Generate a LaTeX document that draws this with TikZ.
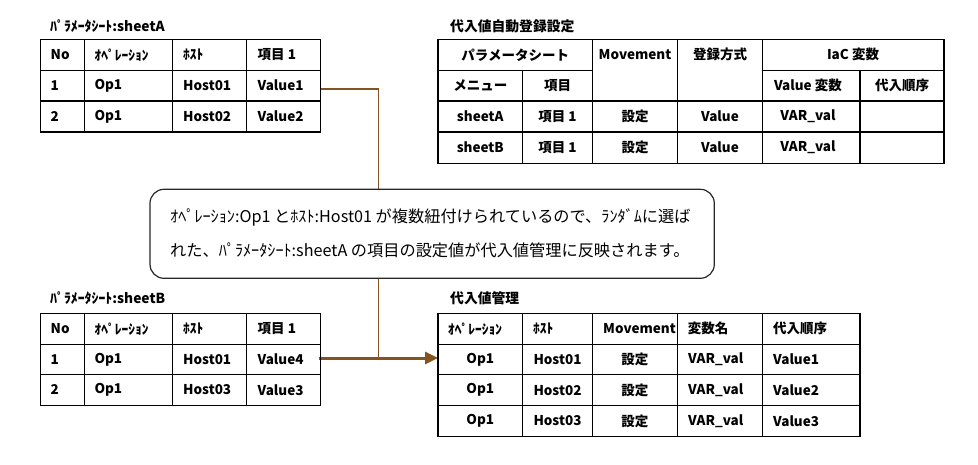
\documentclass[tikz,border=0pt]{standalone}
\usepackage{fontspec}
\usetikzlibrary{arrows.meta}
\newfontfamily\cjk{Noto Sans CJK JP}
\definecolor{linkbrown}{RGB}{132,84,32}
\definecolor{boxline}{RGB}{40,40,40}
\tikzset{
  grid/.style={draw=black, line width=1.3pt},
  cell/.style={font=\cjk\bfseries\fontsize{13.5}{15}\selectfont, inner sep=0pt},
  lcell/.style={cell, anchor=west},
  ccell/.style={cell, anchor=center},
  ttl/.style={font=\cjk\bfseries\fontsize{13.8}{15}\selectfont, inner sep=0pt, anchor=west},
  callout/.style={draw=boxline, line width=1.2pt, fill=white, rounded corners=14pt},
  calltext/.style={font=\cjk\fontsize{16.2}{18}\selectfont, inner sep=0pt, anchor=west},
  thinlink/.style={draw=linkbrown, line width=1.6pt},
  thicklink/.style={draw=linkbrown, line width=3pt, -{Triangle[length=13pt,width=12pt]}}
}
\begin{document}
\begin{tikzpicture}[x=1pt,y=-1pt]
\useasboundingbox (0,0) rectangle (978,465);
\fill[white] (0,0) rectangle (978,465);

% ---------- connectors ----------
\coordinate (srcA) at (320.7,89);
\coordinate (bend) at (378.3,89);
\coordinate (junc) at (378.3,358);
\coordinate (srcB) at (319,358);
\coordinate (dstD) at (438,358);
\draw[thinlink] (srcA) -- (bend) -- (junc);
\draw[thicklink] (srcB) -- (dstD);

% ---------- callout ----------
\draw[callout] (150,189.3) rectangle (714.3,278.3);
\node[calltext] (cl1) at (170,217) {ｵﾍﾟﾚｰｼｮﾝ:Op1 とﾎｽﾄ:Host01 が複数紐付けられているので、ﾗﾝﾀﾞﾑに選ば};
\node[calltext] (cl2) at (170,250) {れた、ﾊﾟﾗﾒｰﾀｼｰﾄ:sheetA の項目の設定値が代入値管理に反映されます。};

% ---------- table A : sheetA ----------
\node[ttl] (tA) at (50,26) {ﾊﾟﾗﾒｰﾀｼｰﾄ:sheetA};
\draw[grid] (40.7,39.3) rectangle (320.7,132);
\foreach \yy in {70.3,101} \draw[grid] (40.7,\yy) -- (320.7,\yy);
\foreach \xx in {84.3,172.3,246.7} \draw[grid] (\xx,39.3) -- (\xx,132);
\node[lcell] (a01) at (50.5,54.8) {No};
\node[lcell] (a02) at (94.3,54.8) {ｵﾍﾟﾚｰｼｮﾝ};
\node[lcell] (a03) at (183,54.8) {ﾎｽﾄ};
\node[lcell] (a04) at (257.5,54.8) {項目 1};
\node[lcell] (a11) at (50.5,85.7) {1};
\node[lcell] (a12) at (94.3,85.7) {Op1};
\node[lcell] (a13) at (183,85.7) {Host01};
\node[lcell] (a14) at (257.5,85.7) {Value1};
\node[lcell] (a21) at (50.5,116.5) {2};
\node[lcell] (a22) at (94.3,116.5) {Op1};
\node[lcell] (a23) at (183,116.5) {Host02};
\node[lcell] (a24) at (257.5,116.5) {Value2};

% ---------- table B : sheetB ----------
\node[ttl] (tB) at (50,298.3) {ﾊﾟﾗﾒｰﾀｼｰﾄ:sheetB};
\draw[grid] (40.7,313.3) rectangle (320.7,405.3);
\foreach \yy in {344.3,374.7} \draw[grid] (40.7,\yy) -- (320.7,\yy);
\foreach \xx in {84.3,172.3,246.7} \draw[grid] (\xx,313.3) -- (\xx,405.3);
\node[lcell] (b01) at (50.5,328.8) {No};
\node[lcell] (b02) at (94.3,328.8) {ｵﾍﾟﾚｰｼｮﾝ};
\node[lcell] (b03) at (183,328.8) {ﾎｽﾄ};
\node[lcell] (b04) at (257.5,328.8) {項目 1};
\node[lcell] (b11) at (50.5,359.5) {1};
\node[lcell] (b12) at (94.3,359.5) {Op1};
\node[lcell] (b13) at (183,359.5) {Host01};
\node[lcell] (b14) at (257.5,359.5) {Value4};
\node[lcell] (b21) at (50.5,390) {2};
\node[lcell] (b22) at (94.3,390) {Op1};
\node[lcell] (b23) at (183,390) {Host03};
\node[lcell] (b24) at (257.5,390) {Value3};

% ---------- table C : 代入値自動登録設定 ----------
\node[ttl] (tC) at (450,26) {代入値自動登録設定};
\draw[grid] (438,39.3) rectangle (944,163.3);
\draw[grid] (438,70.3) -- (592.3,70.3);
\draw[grid] (762.3,70.3) -- (944,70.3);
\foreach \yy in {101,132} \draw[grid] (438,\yy) -- (944,\yy);
\draw[grid] (522.7,70.3) -- (522.7,163.3);
\foreach \xx in {592.3,677.7,762.3} \draw[grid] (\xx,39.3) -- (\xx,163.3);
\draw[grid] (860,70.3) -- (860,163.3);
\node[ccell] (c01) at (515.2,54.8) {パラメータシート};
\node[ccell] (c02) at (635,54.8) {Movement};
\node[ccell] (c03) at (720,54.8) {登録方式};
\node[ccell] (c04) at (853,54.8) {IaC 変数};
\node[ccell] (c11) at (480.3,85.7) {メニュー};
\node[ccell] (c12) at (557.5,85.7) {項目};
\node[ccell] (c13) at (808,85.7) {Value 変数};
\node[ccell] (c14) at (902,85.7) {代入順序};
\node[ccell] (c21) at (480.3,116.5) {sheetA};
\node[ccell] (c22) at (557.5,116.5) {項目 1};
\node[ccell] (c23) at (635,116.5) {設定};
\node[ccell] (c24) at (720,116.5) {Value};
\node[ccell] (c25) at (808,116.5) {VAR\_val};
\node[ccell] (c31) at (480.3,147.7) {sheetB};
\node[ccell] (c32) at (557.5,147.7) {項目 1};
\node[ccell] (c33) at (635,147.7) {設定};
\node[ccell] (c34) at (720,147.7) {Value};
\node[ccell] (c35) at (808,147.7) {VAR\_val};

% ---------- table D : 代入値管理 ----------
\node[ttl] (tD) at (450,298.3) {代入値管理};
\draw[grid] (438,313.3) rectangle (860,436.3);
\foreach \yy in {344.3,374.7,405.7} \draw[grid] (438,\yy) -- (860,\yy);
\foreach \xx in {522.7,592.3,677.3,762.3} \draw[grid] (\xx,313.3) -- (\xx,436.3);
\node[lcell] (d01) at (448,328.8) {ｵﾍﾟﾚｰｼｮﾝ};
\node[lcell] (d02) at (533,328.8) {ﾎｽﾄ};
\node[lcell] (d03) at (603,328.8) {Movement};
\node[lcell] (d04) at (687.7,328.8) {変数名};
\node[lcell] (d05) at (773,328.8) {代入順序};
\foreach \r/\yy/\h/\v in {1/359.5/Host01/Value1, 2/390.2/Host02/Value2, 3/421/Host03/Value3}{
  \node[ccell] (d\r1) at (480.3,\yy) {Op1};
  \node[ccell] (d\r2) at (557.5,\yy) {\h};
  \node[ccell] (d\r3) at (634.8,\yy) {設定};
  \node[lcell] (d\r4) at (688,\yy) {VAR\_val};
  \node[lcell] (d\r5) at (773,\yy) {\v};
}
\end{tikzpicture}
\end{document}
